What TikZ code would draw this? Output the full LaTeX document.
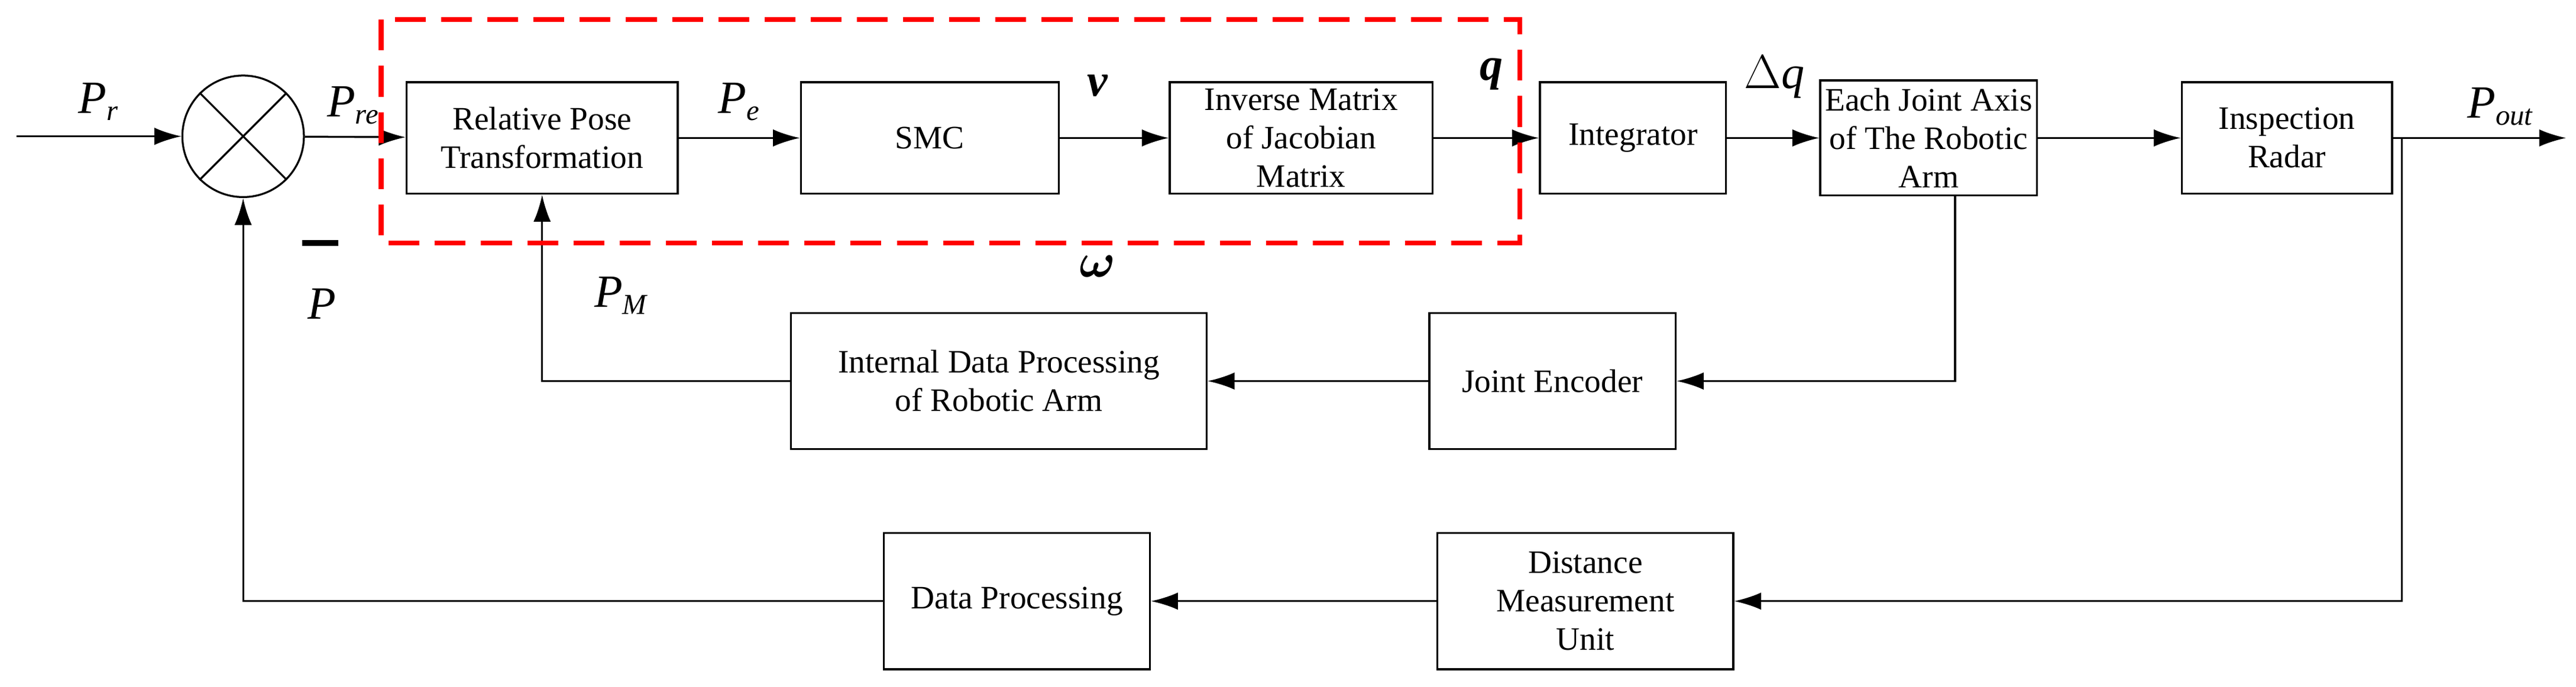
\documentclass[tikz,border=0pt]{standalone}
\usepackage{amsmath,bm}
\usepackage{fontspec}
\setmainfont{Liberation Serif}
\usetikzlibrary{arrows.meta}
\begin{document}
\begin{tikzpicture}[x=0.03cm,y=-0.03cm,
  blk/.style={draw,line width=1pt,minimum height=2.04cm,align=center,font=\fontsize{17}{20}\selectfont,inner sep=2pt},
  arr/.style={-{Latex[length=14pt,width=9pt]},line width=1pt},
  lab/.style={font=\fontsize{24}{28}\selectfont\itshape}]
\useasboundingbox (0,0) rectangle (1568,418);
\node[draw,circle,line width=1pt,minimum size=2.22cm,inner sep=0] (sum) at (148,83) {};
\draw[line width=1pt] (sum.north west)--(sum.south east) (sum.north east)--(sum.south west);
\coordinate (in) at (10,83);
\node[blk,minimum width=4.95cm] (rp) at (330,84) {Relative Pose\\Transformation};
\node[blk,minimum width=4.71cm] (smc) at (566,84) {SMC};
\node[blk,minimum width=4.8cm] (inv) at (792,84) {Inverse Matrix\\of Jacobian\\Matrix};
\node[blk,minimum width=3.4cm] (int) at (994,84) {Integrator};
\node[blk,minimum width=3.96cm,minimum height=2.1cm] (ej) at (1174,84) {Each Joint Axis\\of The Robotic\\Arm};
\node[blk,minimum width=3.84cm] (ir) at (1392,84) {Inspection\\Radar};
\node[blk,minimum width=4.5cm,minimum height=2.49cm] (je) at (945,232) {Joint Encoder};
\node[blk,minimum width=7.59cm,minimum height=2.49cm] (id) at (608,232) {Internal Data Processing\\of Robotic Arm};
\node[blk,minimum width=5.4cm,minimum height=2.49cm] (dm) at (965,366) {Distance\\Measurement\\Unit};
\node[blk,minimum width=4.86cm,minimum height=2.49cm] (dp) at (619,366) {Data Processing};
\coordinate (out) at (1562,84);
\coordinate (tap) at (1462,84);
\draw[arr] (in)--(sum);
\draw[arr] (sum)--(rp);
\draw[arr] (rp)--(smc);
\draw[arr] (smc)--(inv);
\draw[arr] (inv)--(int);
\draw[arr] (int)--(ej);
\draw[arr] (ej)--(ir);
\draw[arr] (ir)--(out);
\draw[arr] (ej.south -| 1190,0) |- (je.east);
\draw[arr] (je)--(id);
\draw[arr] (id.west) -| (rp.south);
\draw[arr] (tap) |- (dm.east);
\draw[arr] (dm)--(dp);
\draw[arr] (dp.west) -| (sum.south);
\draw[red,line width=2.5pt,dash pattern=on 16pt off 8pt] (232,12) rectangle (925,148);
\node[lab] at (60,62) {P\textsubscript{\fontsize{15}{18}\selectfont r}};
\node[lab] at (215,64) {P\textsubscript{\fontsize{15}{18}\selectfont re}};
\node[lab] at (450,62) {P\textsubscript{\fontsize{15}{18}\selectfont e}};
\node[lab,font=\fontsize{24}{28}\selectfont\bfseries\itshape] at (668,52) {v};
\node[lab] at (668,162) {\fontsize{24}{28}\selectfont$\bm{\omega}$};
\node[lab,font=\fontsize{24}{28}\selectfont\bfseries\itshape] at (908,45) {q};
\node[lab] at (1080,47) {$\Delta$q};
\node[lab] at (1522,65) {P\textsubscript{\fontsize{15}{18}\selectfont out}};
\node[lab] at (378,180) {P\textsubscript{\fontsize{15}{18}\selectfont M}};
\node[lab] at (196,185) {P};
\draw[line width=3pt] (184,148)--(206,148);
\end{tikzpicture}
\end{document}
